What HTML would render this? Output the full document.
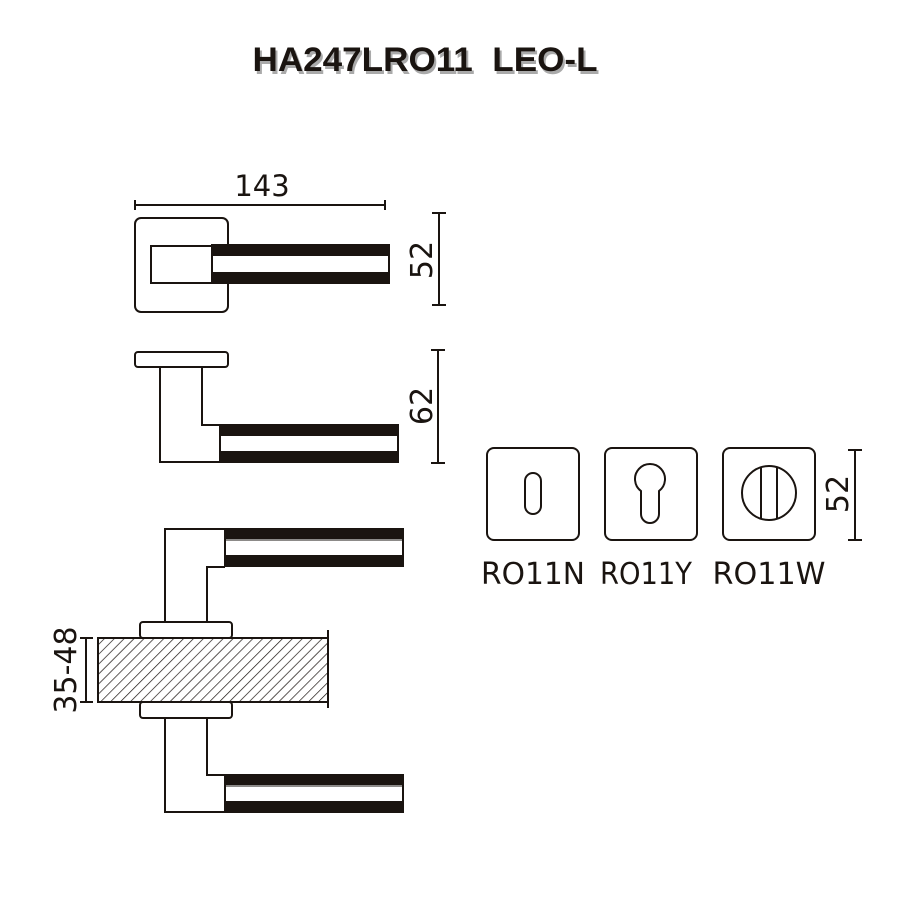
<!DOCTYPE html>
<html><head><meta charset="utf-8"><style>
html,body{margin:0;padding:0;background:#fff;}
svg{display:block;}
.t{font-family:"DejaVu Sans","Liberation Sans",sans-serif;fill:#1a1410;}
.ti{font-family:"Liberation Sans",sans-serif;font-weight:bold;font-size:34px;}
</style></head><body>
<svg width="900" height="900" viewBox="0 0 900 900" xmlns="http://www.w3.org/2000/svg">
<defs>
<pattern id="h" width="7" height="7" patternUnits="userSpaceOnUse" patternTransform="rotate(45)">
<line x1="0" y1="0" x2="0" y2="7" stroke="#1a1410" stroke-width="1.4"/>
</pattern>
</defs>
<text class="ti" x="425" y="71" text-anchor="middle" fill="#aaa" transform="translate(2,3)" xml:space="preserve" textLength="345" lengthAdjust="spacingAndGlyphs">HA247LRO11&#160;&#160;LEO-L</text>
<text class="ti" x="425" y="71" text-anchor="middle" fill="#1a1410" xml:space="preserve" textLength="345" lengthAdjust="spacingAndGlyphs">HA247LRO11&#160;&#160;LEO-L</text>
<g stroke="#1a1410" stroke-width="2" fill="none">
<line x1="135" y1="205" x2="385" y2="205"/><line x1="135" y1="200" x2="135" y2="210"/><line x1="385" y1="200" x2="385" y2="210"/>
<rect x="135" y="218" width="93" height="94" rx="6"/>
<rect x="151" y="246" width="61" height="37" fill="#fff"/>
<rect x="212" y="245" width="177" height="38" fill="#fff"/>
<rect x="212" y="245" width="177" height="10" fill="#1a1410"/>
<rect x="212" y="273" width="177" height="10" fill="#1a1410"/>
<line x1="439" y1="213" x2="439" y2="305"/><line x1="432" y1="213" x2="446" y2="213"/><line x1="432" y1="305" x2="446" y2="305"/>
<rect x="135" y="352" width="93" height="15" rx="3"/>
<path d="M160 367 V462 H220 M202 367 V425 H220"/>
<rect x="220" y="425" width="178" height="37" fill="#fff"/>
<rect x="220" y="425" width="178" height="10" fill="#1a1410"/>
<rect x="220" y="452" width="178" height="10" fill="#1a1410"/>
<line x1="438" y1="350" x2="438" y2="463"/><line x1="431" y1="350" x2="445" y2="350"/><line x1="431" y1="463" x2="445" y2="463"/>
<path d="M165 622 V529 H225 M207 622 V567 H225"/>
<rect x="225" y="529" width="178" height="37" fill="#fff"/>
<rect x="225" y="529" width="178" height="9" fill="#1a1410"/>
<line x1="225" y1="540" x2="403" y2="540" stroke-width="1"/>
<rect x="225" y="556" width="178" height="10" fill="#1a1410"/>
<rect x="140" y="622" width="92" height="16" rx="3"/>
<rect x="98" y="638" width="230" height="64" fill="url(#h)"/>
<line x1="328" y1="630" x2="328" y2="708"/>
<rect x="140" y="702" width="92" height="16" rx="3"/>
<path d="M165 718 V812 H225 M207 718 V775 H225"/>
<rect x="225" y="775" width="178" height="37" fill="#fff"/>
<rect x="225" y="775" width="178" height="9" fill="#1a1410"/>
<line x1="225" y1="786" x2="403" y2="786" stroke-width="1"/>
<rect x="225" y="802" width="178" height="10" fill="#1a1410"/>
<line x1="86" y1="638" x2="86" y2="702"/><line x1="80" y1="638" x2="93" y2="638"/><line x1="80" y1="702" x2="93" y2="702"/>
<rect x="487" y="448" width="92" height="92" rx="7"/>
<rect x="525" y="473" width="16" height="41" rx="8"/>
<rect x="605" y="448" width="92" height="92" rx="7"/>
<path d="M641 491 A15 15 0 1 1 659 491 V514 A9 9 0 0 1 641 514 Z"/>
<rect x="723" y="448" width="92" height="92" rx="7"/>
<circle cx="769" cy="493" r="27"/>
<line x1="761" y1="467" x2="761" y2="519"/><line x1="777" y1="467" x2="777" y2="519"/>
<line x1="855" y1="450" x2="855" y2="540"/><line x1="848" y1="450" x2="862" y2="450"/><line x1="848" y1="540" x2="862" y2="540"/>
</g>
<text class="t" x="262" y="196" text-anchor="middle" font-size="29">143</text>
<text class="t" transform="translate(432,260) rotate(-90)" text-anchor="middle" font-size="30">52</text>
<text class="t" transform="translate(432,406) rotate(-90)" text-anchor="middle" font-size="30">62</text>
<text class="t" transform="translate(76,670) rotate(-90)" text-anchor="middle" font-size="30">35-48</text>
<text class="t" transform="translate(848,494) rotate(-90)" text-anchor="middle" font-size="30">52</text>
<text class="t" x="533" y="584" text-anchor="middle" font-size="30" textLength="104" lengthAdjust="spacingAndGlyphs">RO11N</text>
<text class="t" x="646" y="584" text-anchor="middle" font-size="30" textLength="92" lengthAdjust="spacingAndGlyphs">RO11Y</text>
<text class="t" x="769" y="584" text-anchor="middle" font-size="30" textLength="113" lengthAdjust="spacingAndGlyphs">RO11W</text>
</svg>
</body></html>
